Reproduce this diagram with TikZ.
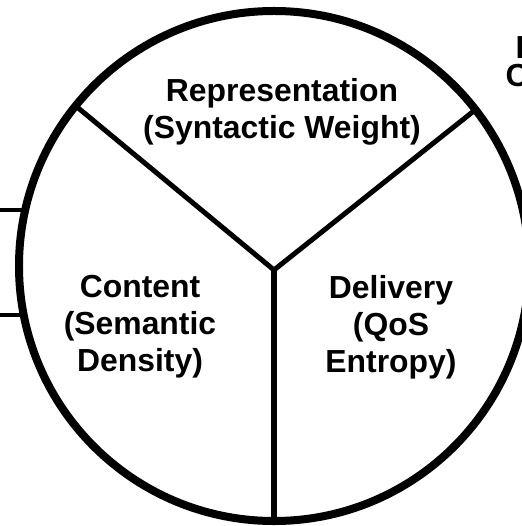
\documentclass[tikz,border=0pt]{standalone}
\usepackage{fontspec}
\setmainfont{Liberation Sans}
\begin{document}
\begin{tikzpicture}[x=1bp,y=-1bp,
  lbl/.style={font=\fontsize{32}{37}\selectfont\bfseries, align=center, inner sep=0pt},
  edge/.style={draw=black, line width=5bp},
  rim/.style={draw=black, line width=8bp, fill=white}]
\useasboundingbox (0,0) rectangle (522,526);
% box at left, partly hidden
\draw[line width=3.3bp] (-80,210) rectangle (60,315);
% circle
\coordinate (c) at (274,266);
\draw[rim] (c) circle[radius=255bp];
\coordinate (hub) at (274,270);
\coordinate (ul) at (77,107);
\coordinate (ur) at (475,110);
\coordinate (bt) at (274,521);
\draw[edge] (ul) -- (hub) -- (ur);
\draw[edge, line width=5.3bp] (hub) -- (bt);
% labels
\node[lbl] (rep) at (282,112) {Representation\\(Syntactic Weight)};
\node[lbl] (con) at (140,327) {Content\\(Semantic\\Density)};
\node[lbl] (del) at (391,327) {Delivery\\(QoS\\Entropy)};
\node[lbl, anchor=base west] (t1) at (515.5,58.5) {I};
\node[lbl, anchor=base west] (t2) at (505.5,87) {C};
\end{tikzpicture}
\end{document}
